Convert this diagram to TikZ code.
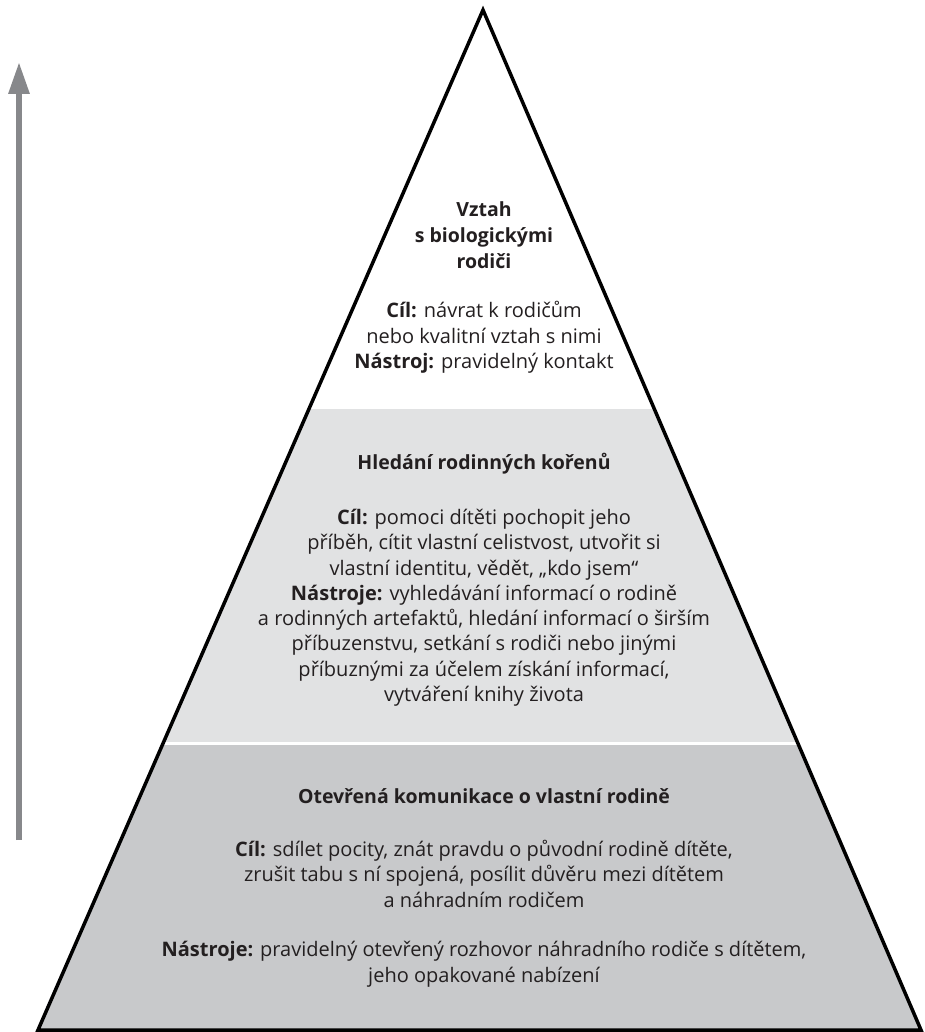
\documentclass[tikz,border=0pt]{standalone}
\usepackage{fontspec}
\setmainfont{Open Sans}
\usetikzlibrary{arrows.meta,calc}
\definecolor{bandlight}{HTML}{E1E2E3}
\definecolor{banddark}{HTML}{C8C9CB}
\definecolor{arrowgray}{HTML}{87888B}
\definecolor{inkgray}{HTML}{231F20}

\begin{document}
\begin{tikzpicture}
        [x = 1pt, y = -1pt, >= {Triangle[length = 32pt, width = 20pt]},
         title/.style = {font = \fontsize{19.5}{26}\selectfont\bfseries, text = inkgray,
                         align = center, inner sep = 0pt, anchor = base},
         body/.style = {font = \fontsize{20}{25.3}\selectfont, text = inkgray,
                        align = center, inner sep = 0pt, anchor = base}]
        \useasboundingbox (0,0) rectangle (925,1032);
        \coordinate (apex) at (483,10);
        \coordinate (left) at (38,1030);
        \coordinate (right) at (921,1030);
        % bands
        \fill[bandlight] ($(apex)!{399/1020}!(left)$) -- ($(apex)!{399/1020}!(right)$)
                      -- ($(apex)!{732/1020}!(right)$) -- ($(apex)!{732/1020}!(left)$) -- cycle;
        \fill[banddark] ($(apex)!{735/1020}!(left)$) -- ($(apex)!{735/1020}!(right)$)
                     -- (right) -- (left) -- cycle;
        \draw[line width = 3.5pt, line join = miter] (apex) -- (right) -- (left) -- cycle;
        % arrow
        \coordinate (low) at (19,840);
        \coordinate (high) at (19,62);
        \draw[->, arrowgray, line width = 6pt] (low) -- (high);
        % texts (base = last line)
        \node[title] (toptitle) at (484,268.5) {Vztah\\s biologickými\\rodiči};
        \node[body] (toptext) at (484,368.5)
          {\textbf{Cíl:} návrat k rodičům\\nebo kvalitní vztah s nimi\\\textbf{Nástroj:} pravidelný kontakt};
        \node[title] (midtitle) at (484,469) {Hledání rodinných kořenů};
        \node[body] (midtext) at (484,701.5)
          {\textbf{Cíl:} pomoci dítěti pochopit jeho\\příběh, cítit vlastní celistvost, utvořit si\\
           vlastní identitu, vědět, „kdo jsem“\\\textbf{Nástroje:} vyhledávání informací o rodině\\
           a rodinných artefaktů, hledání informací o širším\\příbuzenstvu, setkání s rodiči nebo jinými\\
           příbuznými za účelem získání informací,\\vytváření knihy života};
        \node[title] (basetitle) at (484,803) {Otevřená komunikace o vlastní rodině};
        \node[body] (baseaim) at (484,907)
          {\textbf{Cíl:} sdílet pocity, znát pravdu o původní rodině dítěte,\\
           zrušit tabu s ní spojená, posílit důvěru mezi dítětem\\a náhradním rodičem};
        \node[body] (basetools) at (484,982)
          {\textbf{Nástroje:} pravidelný otevřený rozhovor náhradního rodiče s dítětem,\\
           jeho opakované nabízení};
      \end{tikzpicture}
\end{document}
